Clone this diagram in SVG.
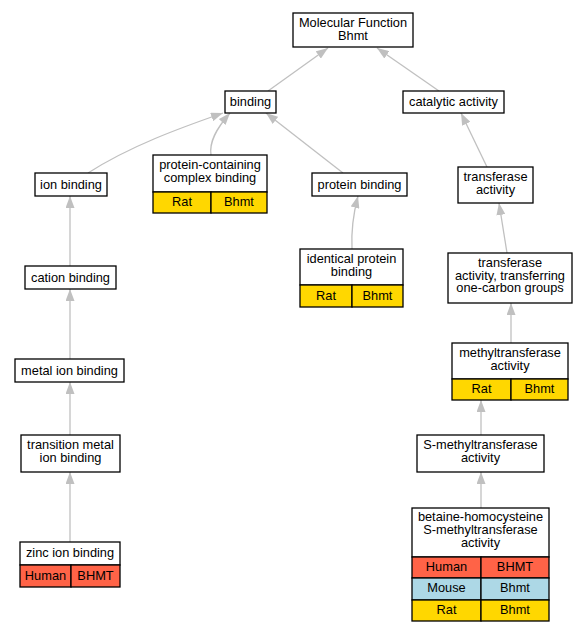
<svg xmlns="http://www.w3.org/2000/svg" width="588" height="632" viewBox="0 0 588 632">
<style>
.box{fill:#fff;stroke:#000;stroke-width:1.3}
.rat{fill:#ffd700;stroke:#000;stroke-width:1.3}
.human{fill:#ff6347;stroke:#000;stroke-width:1.3}
.mouse{fill:#add8e6;stroke:#000;stroke-width:1.3}
text{font-family:"Liberation Sans",Arial,sans-serif;font-size:12.8px;fill:#000;text-anchor:middle}
.e{fill:none;stroke:#c0c0c0;stroke-width:1.3;marker-end:url(#arr)}
</style>
<defs>
<marker id="arr" viewBox="0 0 12 9" refX="12" refY="4.5" markerWidth="12" markerHeight="9" markerUnits="userSpaceOnUse" orient="auto">
<path d="M0,0 L12,4.5 L0,9 z" fill="#c0c0c0"/>
</marker>
</defs>
<rect width="588" height="632" fill="#fff"/>
<g id="edges">
<path class="e" d="M268,91 L328,48"/>
<path class="e" d="M439,91 L377,48"/>
<path class="e" d="M88,173 C130,146 180,128 223,113"/>
<path class="e" d="M211,155 C209,142 216,129 230,113"/>
<path class="e" d="M343,173 L266,113"/>
<path class="e" d="M487,167 L461,113"/>
<path class="e" d="M352,249 C351,230 353,215 358,196"/>
<path class="e" d="M507,253 L499,203"/>
<path class="e" d="M511,343 L511,303"/>
<path class="e" d="M481,435 L481,400"/>
<path class="e" d="M481,508 L481,472"/>
<path class="e" d="M70,266 L70,196"/>
<path class="e" d="M70,359 L70,289"/>
<path class="e" d="M70,435 L70,382"/>
<path class="e" d="M70,542 L70,472"/>
</g>
<g id="mf">
<rect class="box" x="293" y="13" width="120" height="34"/>
<text x="353" y="27.1">Molecular Function</text>
<text x="353" y="39.9">Bhmt</text>
</g>
<g id="binding">
<rect class="box" x="225" y="91" width="51" height="22"/>
<text x="250.5" y="106">binding</text>
</g>
<g id="catalytic">
<rect class="box" x="403" y="91" width="101" height="22"/>
<text x="453.5" y="106">catalytic activity</text>
</g>
<g id="ionbinding">
<rect class="box" x="35" y="173" width="72" height="23"/>
<text x="71" y="189">ion binding</text>
</g>
<g id="complexbinding">
<rect class="box" x="153" y="155" width="114" height="37"/>
<text x="210" y="169.35">protein-containing</text>
<text x="210" y="182.15">complex binding</text>
<rect class="rat" x="153" y="192" width="58" height="21"/>
<rect class="rat" x="211" y="192" width="56" height="21"/>
<text x="182" y="206">Rat</text>
<text x="239" y="206">Bhmt</text>
</g>
<g id="proteinbinding">
<rect class="box" x="312" y="173" width="95" height="23"/>
<text x="359.5" y="189">protein binding</text>
</g>
<g id="identical">
<rect class="box" x="300" y="249" width="103" height="36"/>
<text x="351.5" y="262.85">identical protein</text>
<text x="351.5" y="275.65">binding</text>
<rect class="rat" x="300" y="285" width="52" height="22"/>
<rect class="rat" x="352" y="285" width="51" height="22"/>
<text x="326" y="299.5">Rat</text>
<text x="377.5" y="299.5">Bhmt</text>
</g>
<g id="cation">
<rect class="box" x="25" y="266" width="91" height="23"/>
<text x="70.5" y="282">cation binding</text>
</g>
<g id="metal">
<rect class="box" x="15" y="359" width="109" height="23"/>
<text x="69.5" y="375">metal ion binding</text>
</g>
<g id="transition">
<rect class="box" x="21" y="435" width="99" height="37"/>
<text x="70.5" y="449.35">transition metal</text>
<text x="70.5" y="462.15">ion binding</text>
</g>
<g id="zinc">
<rect class="box" x="20" y="542" width="100" height="23"/>
<text x="70" y="557">zinc ion binding</text>
<rect class="human" x="20" y="565" width="51" height="22"/>
<rect class="human" x="71" y="565" width="49" height="22"/>
<text x="45.5" y="579.5">Human</text>
<text x="95.5" y="579.5">BHMT</text>
</g>
<g id="transferase">
<rect class="box" x="458" y="167" width="75" height="36"/>
<text x="495.5" y="180.85">transferase</text>
<text x="495.5" y="193.65">activity</text>
</g>
<g id="onecarbon">
<rect class="box" x="448" y="253" width="124" height="50"/>
<text x="510" y="266.7">transferase</text>
<text x="510" y="279.5">activity, transferring</text>
<text x="510" y="292.3">one-carbon groups</text>
</g>
<g id="methyl">
<rect class="box" x="452" y="343" width="116" height="36"/>
<text x="510" y="356.85">methyltransferase</text>
<text x="510" y="369.65">activity</text>
<rect class="rat" x="452" y="379" width="59" height="21"/>
<rect class="rat" x="511" y="379" width="57" height="21"/>
<text x="481.5" y="393">Rat</text>
<text x="539.5" y="393">Bhmt</text>
</g>
<g id="smethyl">
<rect class="box" x="417" y="435" width="127" height="37"/>
<text x="480.5" y="449.35">S-methyltransferase</text>
<text x="480.5" y="462.15">activity</text>
</g>
<g id="betaine">
<rect class="box" x="412" y="508" width="137" height="49"/>
<text x="480.5" y="521.2">betaine-homocysteine</text>
<text x="480.5" y="534">S-methyltransferase</text>
<text x="480.5" y="546.8">activity</text>
<rect class="human" x="412" y="557" width="69" height="21"/>
<rect class="human" x="481" y="557" width="68" height="21"/>
<text x="446.5" y="571">Human</text>
<text x="515" y="571">BHMT</text>
<rect class="mouse" x="412" y="578" width="69" height="22"/>
<rect class="mouse" x="481" y="578" width="68" height="22"/>
<text x="446.5" y="592">Mouse</text>
<text x="515" y="592">Bhmt</text>
<rect class="rat" x="412" y="600" width="69" height="21"/>
<rect class="rat" x="481" y="600" width="68" height="21"/>
<text x="446.5" y="613.5">Rat</text>
<text x="515" y="613.5">Bhmt</text>
</g>
</svg>
